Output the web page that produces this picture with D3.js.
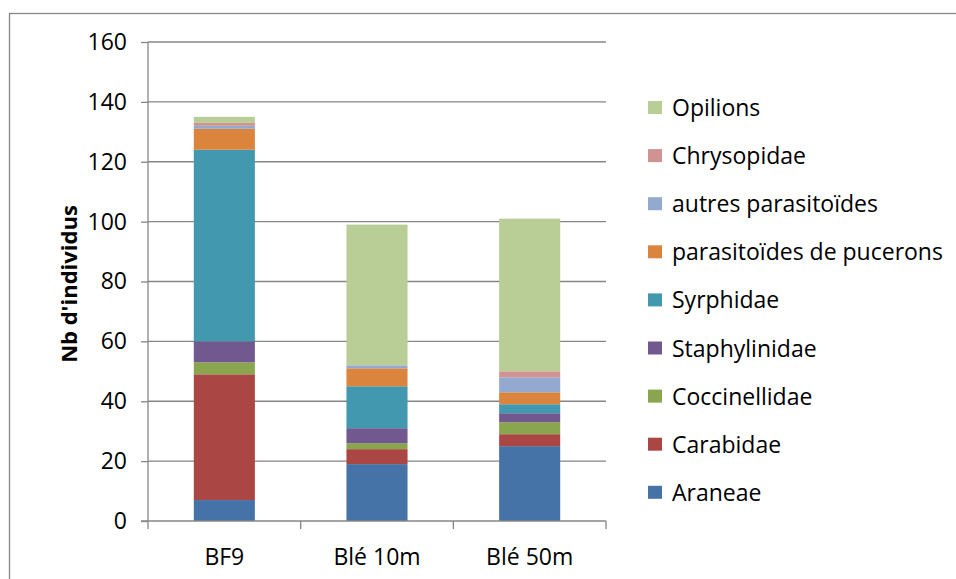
<!DOCTYPE html>
<html>
<head>
<meta charset="utf-8">
<script src="https://cdn.jsdelivr.net/npm/d3@7"></script>
<style>
  body { margin: 0; background: #fff; }
  text { font-family: "Open Sans", sans-serif; fill: #000; }
</style>
</head>
<body>
<div id="chart"></div>
<script>
const width = 956, height = 579;
const margin = {top: 42, left: 148};

const categories = ["BF9", "Blé 10m", "Blé 50m"];
const seriesNames = ["Araneae", "Carabidae", "Coccinellidae", "Staphylinidae", "Syrphidae",
  "parasitoïdes de pucerons", "autres parasitoïdes", "Chrysopidae", "Opilions"];
const colors = ["#4572A7", "#AA4643", "#89A54E", "#71588F", "#4198AF",
  "#DB843D", "#93A9CF", "#D19392", "#B9CD96"];
// values per series, one per category
const araneae = [7, 19, 25];
const carabidae = [42, 5, 4];
const coccinellidae = [4, 2, 4];
const staphylinidae = [7, 5, 3];
const syrphidae = [64, 14, 3];
const parasPucerons = [7, 6, 4];
const autresParas = [1, 1, 5];
const chrysopidae = [1, 0, 2];
const opilions = [2, 47, 51];
const yTicks = [0, 20, 40, 60, 80, 100, 120, 140, 160];

const seriesValues = [araneae, carabidae, coccinellidae, staphylinidae, syrphidae,
  parasPucerons, autresParas, chrysopidae, opilions];

const data = categories.map((c, i) => {
  const row = {cat: c};
  seriesNames.forEach((s, j) => row[s] = seriesValues[j][i]);
  return row;
});

const svg = d3.select("#chart")
  .append("svg")
  .attr("width", width)
  .attr("height", height);

// chart frame
svg.append("rect")
  .attr("x", 9.5).attr("y", 13.5)
  .attr("width", 960).attr("height", 600)
  .attr("fill", "none").attr("stroke", "#868686").attr("stroke-width", 1.3);

const plotW = 458, plotH = 479;

const x = d3.scaleBand().domain(categories).range([0, plotW]).paddingInner(0.6).paddingOuter(0.3);
const xTickScale = d3.scaleBand().domain(categories).range([0, plotW]);
const y = d3.scaleLinear().domain([0, 160]).range([plotH, 0]);

const g = svg.append("g").attr("transform", `translate(${margin.left},${margin.top})`);

// gridlines
g.append("g")
  .selectAll("line")
  .data(yTicks.slice(1))
  .join("line")
  .attr("x1", 0).attr("x2", plotW)
  .attr("y1", d => y(d)).attr("y2", d => y(d))
  .attr("stroke", "#868686").attr("stroke-width", 1.3);

const stack = d3.stack().keys(seriesNames)(data);

g.append("g")
  .selectAll("g")
  .data(stack)
  .join("g")
  .attr("fill", (d, i) => colors[i])
  .selectAll("rect")
  .data(d => d)
  .join("rect")
  .attr("x", d => x(d.data.cat))
  .attr("width", x.bandwidth())
  .attr("y", d => y(d[1]))
  .attr("height", d => y(d[0]) - y(d[1]));

// y axis
const yAxis = g.append("g")
  .call(d3.axisLeft(y).tickValues(yTicks).tickSize(7).tickPadding(14));
yAxis.selectAll("line").attr("stroke", "#868686").attr("stroke-width", 1.3);
yAxis.select(".domain").attr("stroke", "#868686").attr("stroke-width", 1.3)
  .attr("d", `M0,${plotH}V0`);
yAxis.selectAll("text").style("font-size", "23px").style("font-family", "Open Sans");

// x axis with ticks between categories
const xAxis = g.append("g").attr("transform", `translate(0,${y(0)})`);
xAxis.append("line")
  .attr("x1", -7).attr("x2", plotW)
  .attr("stroke", "#868686").attr("stroke-width", 1.3);
xAxis.selectAll(".sep")
  .data([0].concat(categories.map(c => xTickScale(c) + xTickScale.bandwidth())))
  .join("line")
  .attr("class", "sep")
  .attr("x1", d => d).attr("x2", d => d)
  .attr("y1", 0).attr("y2", 8)
  .attr("stroke", "#868686").attr("stroke-width", 1.3);
xAxis.selectAll(".lbl")
  .data(categories)
  .join("text")
  .attr("class", "lbl")
  .attr("x", d => xTickScale(d) + xTickScale.bandwidth() / 2)
  .attr("y", 44)
  .attr("text-anchor", "middle")
  .style("font-size", "23px")
  .text(d => d);

// y axis title
svg.append("text")
  .attr("transform", "translate(77,284) rotate(-90)")
  .attr("text-anchor", "middle")
  .style("font-size", "22px")
  .style("font-weight", "bold")
  .text("Nb d'individus");

// legend (reverse order)
const legend = svg.append("g").attr("transform", "translate(648,108)");
const legendItems = seriesNames.slice().reverse();
const li = legend.selectAll("g")
  .data(legendItems)
  .join("g")
  .attr("transform", (d, i) => `translate(0,${i * 48.1})`);
li.append("rect")
  .attr("x", 0).attr("y", -7)
  .attr("width", 14).attr("height", 13)
  .attr("fill", d => colors[seriesNames.indexOf(d)]);
li.append("text")
  .attr("x", 24).attr("y", 0)
  .attr("dy", "0.35em")
  .style("font-size", "23px")
  .text(d => d);
</script>
</body>
</html>
